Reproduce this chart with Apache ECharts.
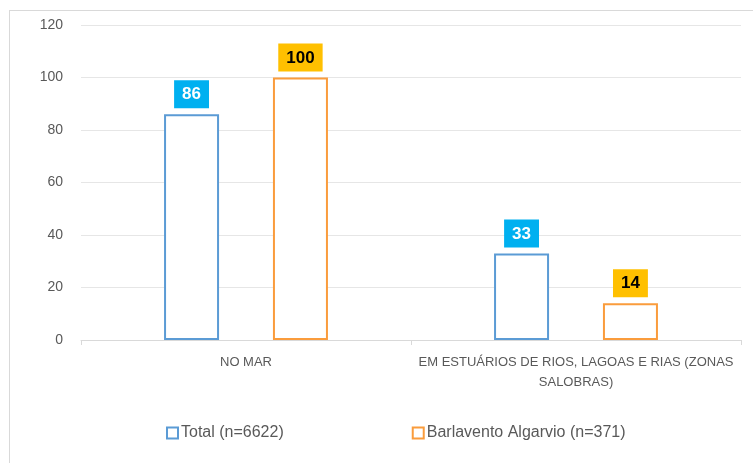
<!DOCTYPE html>
<html>
<head>
<meta charset="utf-8">
<script src="https://cdn.jsdelivr.net/npm/echarts@6/dist/echarts.min.js"></script>
<style>
  body { margin: 0; background: #fff; }
  #frame { position: absolute; left: 9px; top: 10px; width: 760px; height: 470px; border: 1px solid #d9d9d9; box-sizing: border-box; }
  #chart { position: absolute; left: 0; top: 0; width: 753px; height: 463px; }
</style>
</head>
<body>
<div id="frame"></div>
<div id="chart"></div>
<script>
  // dados
  var categorias = ['NO MAR', 'EM ESTUÁRIOS DE RIOS, LAGOAS E RIAS (ZONAS\nSALOBRAS)'];
  var total = [86, 33];
  var barlavento = [100, 14];
  var nomes = ['Total (n=6622)', 'Barlavento Algarvio (n=371)'];

  var grafico = echarts.init(document.getElementById('chart'));

  var option = {
      textStyle: { fontFamily: 'Liberation Sans' },
      grid: { left: 81, right: 12, top: 25, bottom: 123 },
      legend: {
          data: nomes,
          bottom: 17,
          left: 161,
          itemGap: 128,
          itemWidth: 11,
          itemHeight: 11,
          icon: 'rect',
          textStyle: { color: '#595959', fontSize: 16, padding: [0, 0, 0, -2] }
      },
      xAxis: {
          type: 'category',
          data: categorias,
          axisLine: { lineStyle: { color: '#d9d9d9' } },
          axisTick: { show: true, interval: 0, length: 5, lineStyle: { color: '#d9d9d9' } },
          axisLabel: { interval: 0, color: '#595959', fontSize: 13, margin: 12, lineHeight: 20 }
      },
      yAxis: {
          type: 'value',
          min: 0,
          max: 120,
          interval: 20,
          axisLabel: { color: '#595959', fontSize: 14, margin: 18 },
          splitLine: { lineStyle: { color: '#e6e6e6' } }
      },
      series: [
          {
              name: nomes[0],
              type: 'bar',
              data: total,
              barWidth: 55,
              barGap: '98%',
              itemStyle: { color: '#fff', borderColor: '#5b9bd5', borderWidth: 2 },
              label: {
                  show: true, position: 'top', distance: 6,
                  color: '#fff', fontWeight: 'bold', fontSize: 17,
                  backgroundColor: '#00b0f0', padding: [6, 8, 5, 8]
              }
          },
          {
              name: nomes[1],
              type: 'bar',
              data: barlavento,
              barWidth: 55,
              itemStyle: { color: '#fff', borderColor: '#fa9c3c', borderWidth: 2 },
              label: {
                  show: true, position: 'top', distance: 6,
                  color: '#000', fontWeight: 'bold', fontSize: 17,
                  backgroundColor: '#ffc000', padding: [6, 8, 5, 8]
              }
          }
      ]
  };

  grafico.setOption(option);
</script>
</body>
</html>
